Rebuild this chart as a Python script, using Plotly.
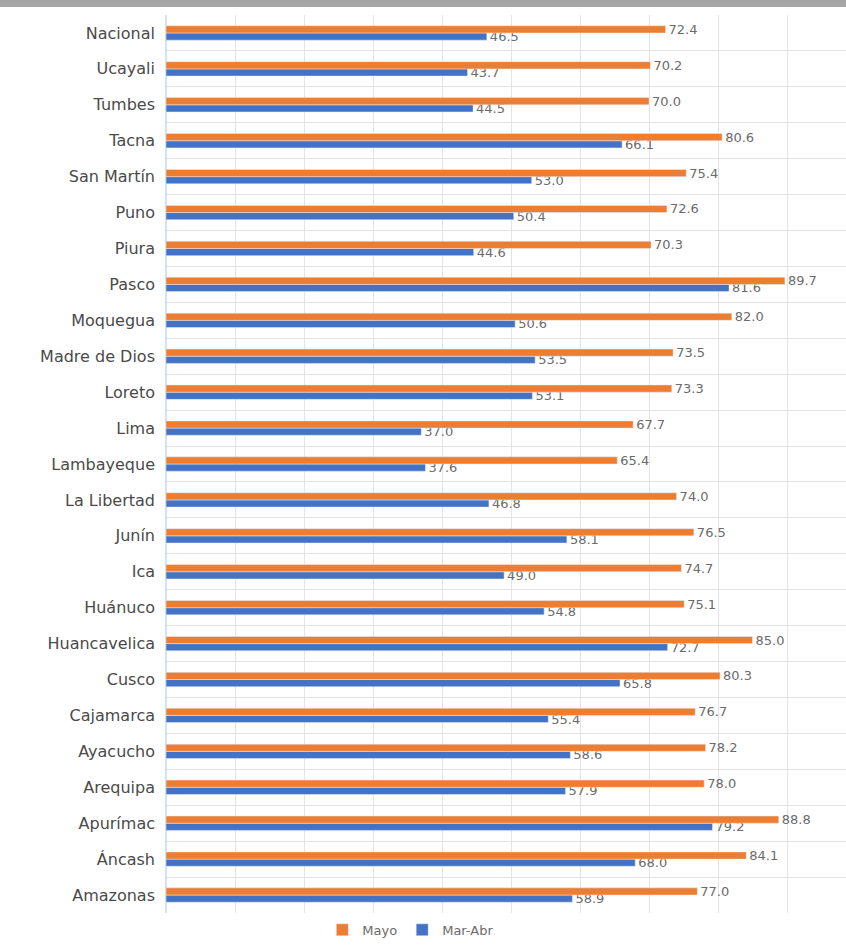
import plotly.graph_objects as go

regiones = ["Nacional", "Ucayali", "Tumbes", "Tacna", "San Martín", "Puno", "Piura", "Pasco",
            "Moquegua", "Madre de Dios", "Loreto", "Lima", "Lambayeque", "La Libertad", "Junín",
            "Ica", "Huánuco", "Huancavelica", "Cusco", "Cajamarca", "Ayacucho", "Arequipa",
            "Apurímac", "Áncash", "Amazonas"]
mayo = [72.4, 70.2, 70.0, 80.6, 75.4, 72.6, 70.3, 89.7, 82.0, 73.5, 73.3, 67.7, 65.4, 74.0,
        76.5, 74.7, 75.1, 85.0, 80.3, 76.7, 78.2, 78.0, 88.8, 84.1, 77.0]
mar_abr = [46.5, 43.7, 44.5, 66.1, 53.0, 50.4, 44.6, 81.6, 50.6, 53.5, 53.1, 37.0, 37.6, 46.8,
           58.1, 49.0, 54.8, 72.7, 65.8, 55.4, 58.6, 57.9, 79.2, 68.0, 58.9]

TXT = "#6b6b6b"
FONT = "DejaVu Sans"

fig = go.Figure()
fig.add_trace(go.Bar(
    y=regiones, x=mar_abr, name="Mar-Abr", orientation="h",
    marker_color="#4472C4",
    text=[f"{v:.1f}" for v in mar_abr], textposition="outside", constraintext="none",
    textfont=dict(size=13, color=TXT, family=FONT), cliponaxis=False,
))
fig.add_trace(go.Bar(
    y=regiones, x=mayo, name="Mayo", orientation="h",
    marker_color="#ED7D31",
    text=[f"{v:.1f}" for v in mayo], textposition="outside", constraintext="none",
    textfont=dict(size=13, color=TXT, family=FONT), cliponaxis=False,
))

W, H = 846, 945
ml, mr, mt, mb = 166, 0, 15, 27
ph = H - mt - mb
pw = W - ml - mr

fig.update_layout(
    width=W, height=H,
    margin=dict(l=ml, r=mr, t=mt, b=mb, pad=0),
    paper_bgcolor="white", plot_bgcolor="white",
    barmode="group", bargap=0.6, bargroupgap=0.0,
    font=dict(family=FONT, color=TXT),
    showlegend=True,
    legend=dict(orientation="h", x=0.36, xanchor="center", y=-0.002, yanchor="top",
                traceorder="reversed", font=dict(size=13, color=TXT, family=FONT),
                itemwidth=30),
    xaxis=dict(range=[0, pw / 6.9], dtick=10, showticklabels=False, showgrid=True,
               gridcolor="#e3e3e3", zeroline=True, zerolinecolor="#cfe3f3", zerolinewidth=2,
               fixedrange=True),
    yaxis=dict(categoryorder="array", categoryarray=regiones[::-1], tickson="boundaries",
               showgrid=True, gridcolor="#e3e3e3", ticks="", ticklabelstandoff=10,
               tickfont=dict(size=16, color="#4a4a4a", family=FONT)),
    shapes=[dict(type="rect", xref="paper", yref="paper",
                 x0=-ml / pw, x1=1, y0=1 + (mt - 7) / ph, y1=1 + mt / ph,
                 fillcolor="#a6a6a6", line_width=0, layer="above")],
)

fig.write_html("out.html", config={"displayModeBar": False},
               post_script="document.body.style.margin='0';document.body.style.overflow='hidden';")
